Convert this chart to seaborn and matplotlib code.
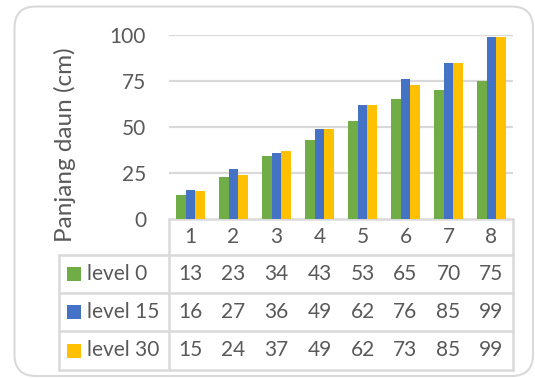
import matplotlib
matplotlib.use("Agg")
import matplotlib.pyplot as plt
from matplotlib.lines import Line2D
from matplotlib.patches import FancyBboxPatch, Rectangle
import matplotlib.transforms as mtransforms
import pandas as pd
import seaborn as sns

# data
hari = ["1", "2", "3", "4", "5", "6", "7", "8"]
levels = ["level 0", "level 15", "level 30"]
level_0 = [13, 23, 34, 43, 53, 65, 70, 75]
level_15 = [16, 27, 36, 49, 62, 76, 85, 99]
level_30 = [15, 24, 37, 49, 62, 73, 85, 99]
y_ticks = [0, 25, 50, 75, 100]

colors = ["#70AD47", "#4472C4", "#FFC000"]
text_color = "#595959"
grid_color = "#D9D9D9"
fs = 15

sns.set_theme(style="white")
plt.rcParams["font.family"] = ["Lato", "DejaVu Sans"]

W, H = 535, 378
fig = plt.figure(figsize=(W / 100, H / 100), dpi=100)


def fx(x):
    return x / W


def fy(y):
    return 1 - y / H


# outer chart frame
frame = FancyBboxPatch((fx(14.5), fy(376)), fx(518.5), (376 - 6.5) / H,
                       boxstyle="round,pad=0,rounding_size=0.04",
                       transform=fig.transFigure, facecolor="white",
                       edgecolor=grid_color, linewidth=1.5,
                       mutation_aspect=W / H, zorder=-5)
fig.add_artist(frame)

ax_l, ax_r, ax_t, ax_b = 169, 513, 35, 219
ax = fig.add_axes([fx(ax_l), fy(ax_b), fx(ax_r - ax_l), (ax_b - ax_t) / H])
ax.set_facecolor("none")
ax.set_zorder(2)

series = {"level 0": level_0, "level 15": level_15, "level 30": level_30}
df = pd.DataFrame([
    {"hari": h, "level": lv, "panjang": v}
    for lv in levels for h, v in zip(hari, series[lv])
])

sns.barplot(data=df, x="hari", y="panjang", hue="level", order=hari,
            hue_order=levels, palette=colors, saturation=1, width=0.667,
            linewidth=0, legend=False, ax=ax, zorder=3)

ax.set_ylim(0, 100)
ax.set_xlim(-0.5, len(hari) - 0.5)
ax.set_yticks(y_ticks)
ax.set_yticklabels([str(t) for t in y_ticks], fontsize=fs, color=text_color)
ax.tick_params(axis="y", length=0, pad=16.5)
ax.set_xticks([])
ax.set_xlabel("")
ax.set_ylabel("")
for s in ax.spines.values():
    s.set_visible(False)
for t in y_ticks[1:]:
    ax.axhline(t, color=grid_color, linewidth=1.6, zorder=1)

fig.text(fx(65), fy(145), "Panjang daun (cm)", rotation=90, ha="center",
         va="center", fontsize=17.5, color=text_color)

# data table under the plot
lw = 1.8
row_lines = [219, 255, 293, 331, 370]
tbl_left = 59


def hline(y, x0, x1):
    fig.add_artist(Line2D([fx(x0), fx(x1)], [fy(y), fy(y)],
                          transform=fig.transFigure, color=grid_color, lw=lw))


def vline(x, y0, y1):
    fig.add_artist(Line2D([fx(x), fx(x)], [fy(y0), fy(y1)],
                          transform=fig.transFigure, color=grid_color, lw=lw))


hline(row_lines[0], ax_l, ax_r)
for y in row_lines[1:]:
    hline(y, tbl_left, ax_r)
vline(ax_l, row_lines[0], row_lines[-1])
vline(ax_r, row_lines[0], row_lines[-1])
vline(tbl_left, row_lines[1], row_lines[-1])

blend = mtransforms.blended_transform_factory(ax.transData, fig.transFigure)
row_centers = [(row_lines[i] + row_lines[i + 1]) / 2 for i in range(4)]

for i, h in enumerate(hari):
    fig.text(i, fy(row_centers[0]), h, transform=blend, ha="center",
             va="center", fontsize=fs, color=text_color)

for r, lv in enumerate(levels):
    yc = row_centers[r + 1]
    fig.add_artist(Rectangle((fx(67), fy(yc + 7)), fx(14), 14 / H,
                             transform=fig.transFigure, facecolor=colors[r],
                             edgecolor="none"))
    fig.text(fx(87), fy(yc), lv, ha="left", va="center", fontsize=fs,
             color=text_color)
    for i, v in enumerate(series[lv]):
        fig.text(i, fy(yc), str(v), transform=blend, ha="center",
                 va="center", fontsize=fs, color=text_color)

fig.savefig("out.png", dpi=100)
